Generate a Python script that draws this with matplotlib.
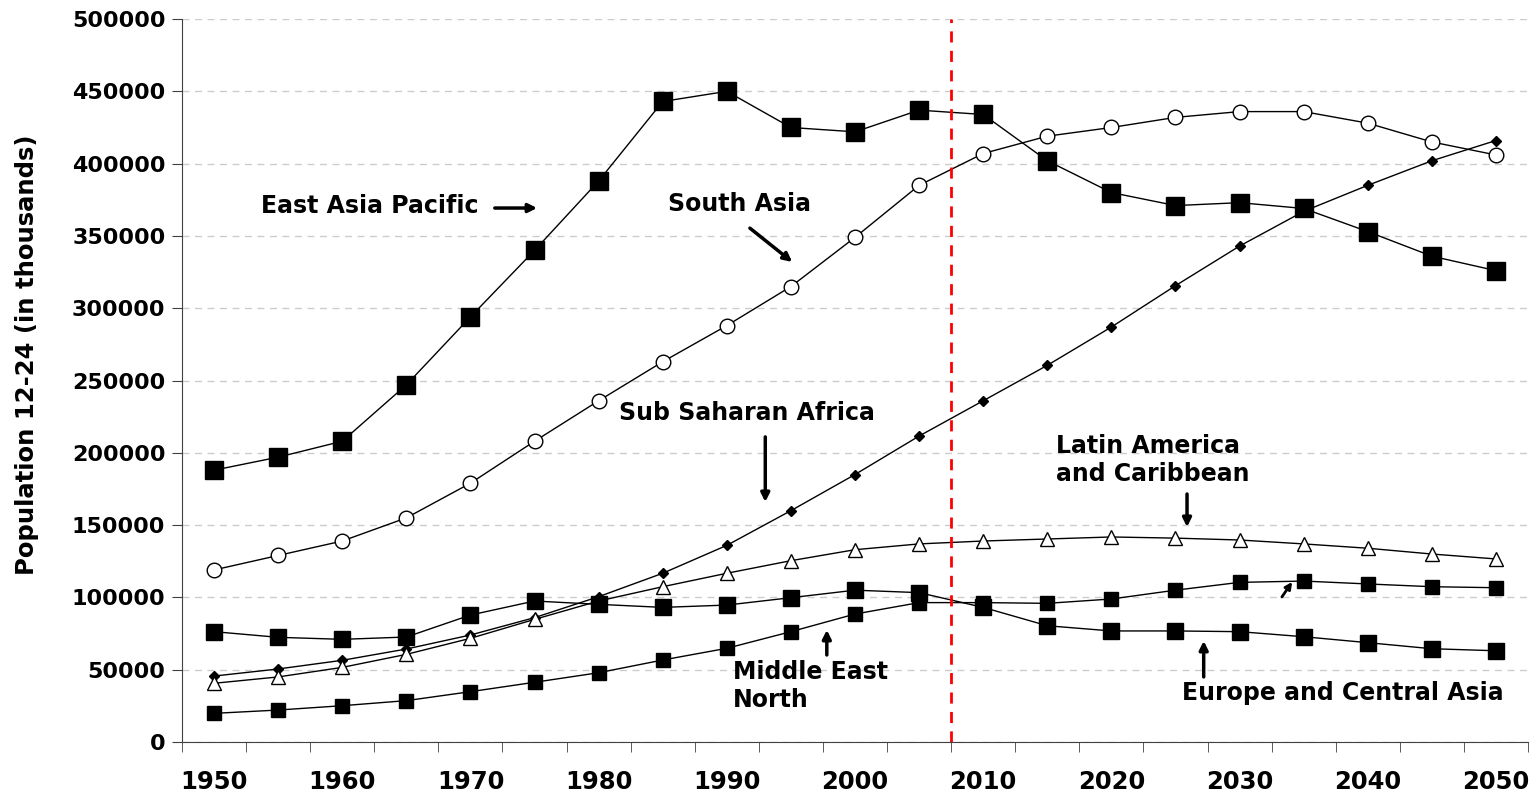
import matplotlib.pyplot as plt
import numpy as np

plt.rcParams['font.family'] = ['DejaVu Sans']
plt.rcParams['font.weight'] = 'bold'

years = list(range(1950, 2051, 5))

# population aged 12-24, thousands
east_asia = [188, 197, 208, 247, 294, 340, 388, 443, 450, 425, 422, 437, 434,
             402, 380, 371, 373, 369, 353, 336, 326]
south_asia = [119, 129, 139, 155, 179, 208, 236, 263, 288, 315, 349, 385, 407,
              419, 425, 432, 436, 436, 428, 415, 406]
ssa = [45.6, 50.5, 56.5, 64.3, 74, 86, 100.5, 116.7, 136, 160, 185, 211.6, 236,
       260.5, 287, 315.6, 343, 367, 385, 402, 416]
latin = [40.6, 45, 51.6, 60.6, 71.7, 84.8, 97.5, 107.4, 116.7, 125.4, 133, 137,
         139, 140.4, 141.8, 141, 139.7, 137, 134, 130, 126.6]
europe = [76.3, 72.4, 71, 72.6, 87.8, 97.5, 95.2, 93.1, 94.7, 99.8, 105, 103.3,
          93.1, 80.4, 76.8, 76.8, 76.3, 72.8, 68.7, 64.5, 63.1]
mena = [19.8, 22.1, 25.1, 28.6, 34.8, 41.3, 47.9, 56.7, 64.8, 76.3, 88.5, 96.4,
        96.4, 95.9, 98.9, 105, 110.4, 111.3, 109.3, 107.4, 106.7]

x = np.array(years)
k = 1000

fig = plt.figure(figsize=(15.36, 7.94), dpi=100)
ax = fig.add_axes([0.1185, 0.0655, 0.8763, 0.9105])

ax.plot(x, np.array(east_asia) * k, color='black', lw=1, marker='s', ms=12.5)
ax.plot(x, np.array(south_asia) * k, color='black', lw=1, marker='o', ms=10.5,
        mfc='white', mew=1)
ax.plot(x, np.array(ssa) * k, color='black', lw=1, marker='D', ms=5.5)
ax.plot(x, np.array(latin) * k, color='black', lw=1, marker='^', ms=10.5,
        mfc='white', mew=1)
ax.plot(x, np.array(europe) * k, color='black', lw=1, marker='s', ms=11.5)
ax.plot(x, np.array(mena) * k, color='black', lw=1, marker='s', ms=10)

ax.axvline(2007.5, color='red', lw=2, ls=(0, (4, 3)))

ax.set_xlim(1947.5, 2052.5)
ax.set_ylim(0, 500000)
ax.set_yticks(np.arange(0, 500001, 50000))
ax.set_yticklabels([str(v) for v in range(0, 500001, 50000)], fontsize=16,
                   fontweight='bold')
ax.set_xticks(range(1950, 2051, 10))
ax.set_xticklabels([str(v) for v in range(1950, 2051, 10)], fontsize=17.5,
                   fontweight='bold')
ax.set_xticks(np.arange(1947.5, 2053, 5), minor=True)
ax.tick_params(axis='x', which='major', length=0, pad=20)
ax.tick_params(axis='x', which='minor', length=7, direction='out',
               color='#404040')
ax.tick_params(axis='y', length=7, color='#404040', pad=5)

ax.grid(axis='y', color='#cccccc', ls=(0, (5, 4)), lw=1)
ax.set_axisbelow(True)
for s in ['top', 'right']:
    ax.spines[s].set_visible(False)
for s in ['left', 'bottom']:
    ax.spines[s].set_color('#404040')

ax.set_ylabel('Population 12-24 (in thousands)', fontsize=17.5, fontweight='bold')
ax.yaxis.set_label_coords(-0.106, 0.535)

tkw = dict(fontsize=17, fontweight='bold', va='center', ha='left')
akw = dict(arrowstyle='-|>,head_length=0.5,head_width=0.25', color='black',
           lw=2.5, shrinkA=0, shrinkB=0)

ax.text(1953.7, 371000, 'East Asia Pacific', **tkw)
ax.annotate('', xy=(1975.2, 369300), xytext=(1971.9, 369300), arrowprops=akw)

ax.text(1985.4, 372000, 'South Asia', **tkw)
ax.annotate('', xy=(1995.1, 332000), xytext=(1991.8, 355400), arrowprops=akw)

ax.text(1981.6, 227500, 'Sub Saharan Africa', **tkw)
ax.annotate('', xy=(1993.0, 166000), xytext=(1993.0, 211000), arrowprops=akw)

ax.text(2015.7, 195000, 'Latin America\nand Caribbean', linespacing=1.2, **tkw)
ax.annotate('', xy=(2025.9, 148700), xytext=(2025.9, 171500), arrowprops=akw)

ax.text(1990.5, 38700, 'Middle East\nNorth', linespacing=1.2, **tkw)
ax.annotate('', xy=(1997.8, 77500), xytext=(1997.8, 60200), arrowprops=akw)

ax.text(2025.5, 33900, 'Europe and Central Asia', **tkw)
ax.annotate('', xy=(2027.2, 69900), xytext=(2027.2, 45000), arrowprops=akw)

ax.annotate('', xy=(2034.1, 110700), xytext=(2033.3, 100300),
            arrowprops=dict(arrowstyle='-|>,head_length=0.4,head_width=0.2',
                            color='black', lw=2, shrinkA=0, shrinkB=0))

fig.savefig('out.png', dpi=100)
